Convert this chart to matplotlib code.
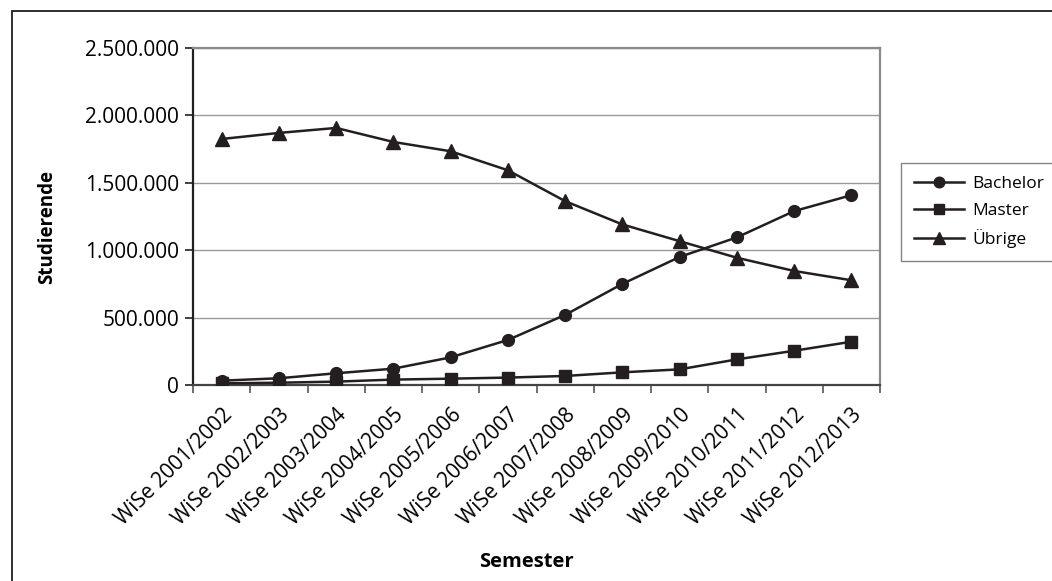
import matplotlib
matplotlib.use("Agg")
import matplotlib.pyplot as plt
from matplotlib.patches import Rectangle
from matplotlib.ticker import FuncFormatter, FixedLocator, MultipleLocator

plt.rcParams['font.family'] = ['Open Sans', 'DejaVu Sans']

semester = ["WiSe 2001/2002", "WiSe 2002/2003", "WiSe 2003/2004", "WiSe 2004/2005",
            "WiSe 2005/2006", "WiSe 2006/2007", "WiSe 2007/2008", "WiSe 2008/2009",
            "WiSe 2009/2010", "WiSe 2010/2011", "WiSe 2011/2012", "WiSe 2012/2013"]
bachelor = [32000, 50000, 87000, 121000, 205000, 334000, 520000, 750000, 950000, 1095000, 1290000, 1408000]
master = [12000, 17000, 25000, 40000, 47000, 55000, 67000, 94000, 116000, 190000, 254000, 321000]
uebrige = [1825000, 1870000, 1907000, 1803000, 1734000, 1593000, 1364000, 1191000, 1067000, 944000, 846000, 777000]

W, H = 1052, 581
fig = plt.figure(figsize=(W / 100, H / 100), dpi=100)
fig.patch.set_facecolor('white')

# outer chart frame (top and left visible)
fig.patches.append(Rectangle((12 / W, -0.1), 1.2, 1 - 11 / H + 0.1, transform=fig.transFigure,
                             fill=False, edgecolor='#231f20', linewidth=1.3))

ax = fig.add_axes([193 / W, 1 - 385 / H, (880 - 193) / W, (385 - 48) / H])
x = list(range(len(semester)))
c = '#231f20'
ax.plot(x, bachelor, color=c, lw=1.8, marker='o', ms=8.5, label='Bachelor', zorder=3)
ax.plot(x, master, color=c, lw=1.8, marker='s', ms=8.5, label='Master', zorder=3)
ax.plot(x, uebrige, color=c, lw=1.8, marker='^', ms=9.5, label='Übrige', zorder=3)

ax.set_xlim(-0.5, len(semester) - 0.5)
ax.set_ylim(0, 2500000)
ax.yaxis.set_major_locator(MultipleLocator(500000))
ax.yaxis.set_major_formatter(FuncFormatter(lambda v, p: f"{int(v):,}".replace(',', '.')))
ax.grid(axis='y', color='#9a9a9a', lw=1.0, zorder=0)
ax.set_axisbelow(True)

ax.xaxis.set_major_locator(FixedLocator([i - 0.5 for i in range(len(semester) + 1)]))
ax.xaxis.set_major_formatter(FuncFormatter(lambda v, p: ''))
ax.xaxis.set_minor_locator(FixedLocator(x))
ax.set_xticklabels(semester, minor=True, rotation=45, ha='right', va='top',
                   rotation_mode='anchor', fontsize=15)
ax.tick_params(axis='x', which='minor', length=0, pad=14)
ax.tick_params(axis='x', which='major', length=6, width=1.2, color='#555555', direction='out')
ax.tick_params(axis='y', length=6, width=1.2, labelsize=15, pad=4, color=c)

for s in ['top', 'right']:
    ax.spines[s].set_color('#8a8a8a')
    ax.spines[s].set_linewidth(1.6)
ax.spines['left'].set_color(c)
ax.spines['left'].set_linewidth(1.6)
ax.spines['bottom'].set_color('#444444')
ax.spines['bottom'].set_linewidth(1.6)

fig.text(47 / W, 1 - 227 / H, 'Studierende', rotation=90, ha='center', va='center',
         fontsize=13.5, fontweight='bold')
fig.text(526 / W, 1 - 562 / H, 'Semester', ha='center', va='center',
         fontsize=14.5, fontweight='bold')

leg = fig.legend(loc='upper left', bbox_to_anchor=(901 / W, 1 - 163 / H), fontsize=12.5,
                 frameon=True, fancybox=False, edgecolor='#666666', handlelength=2.9,
                 handletextpad=0.45, borderpad=0.75, labelspacing=0.6, borderaxespad=0,
                 markerscale=0.9)
leg.get_frame().set_linewidth(1.0)

fig.savefig('out.png', dpi=100, facecolor='white')
